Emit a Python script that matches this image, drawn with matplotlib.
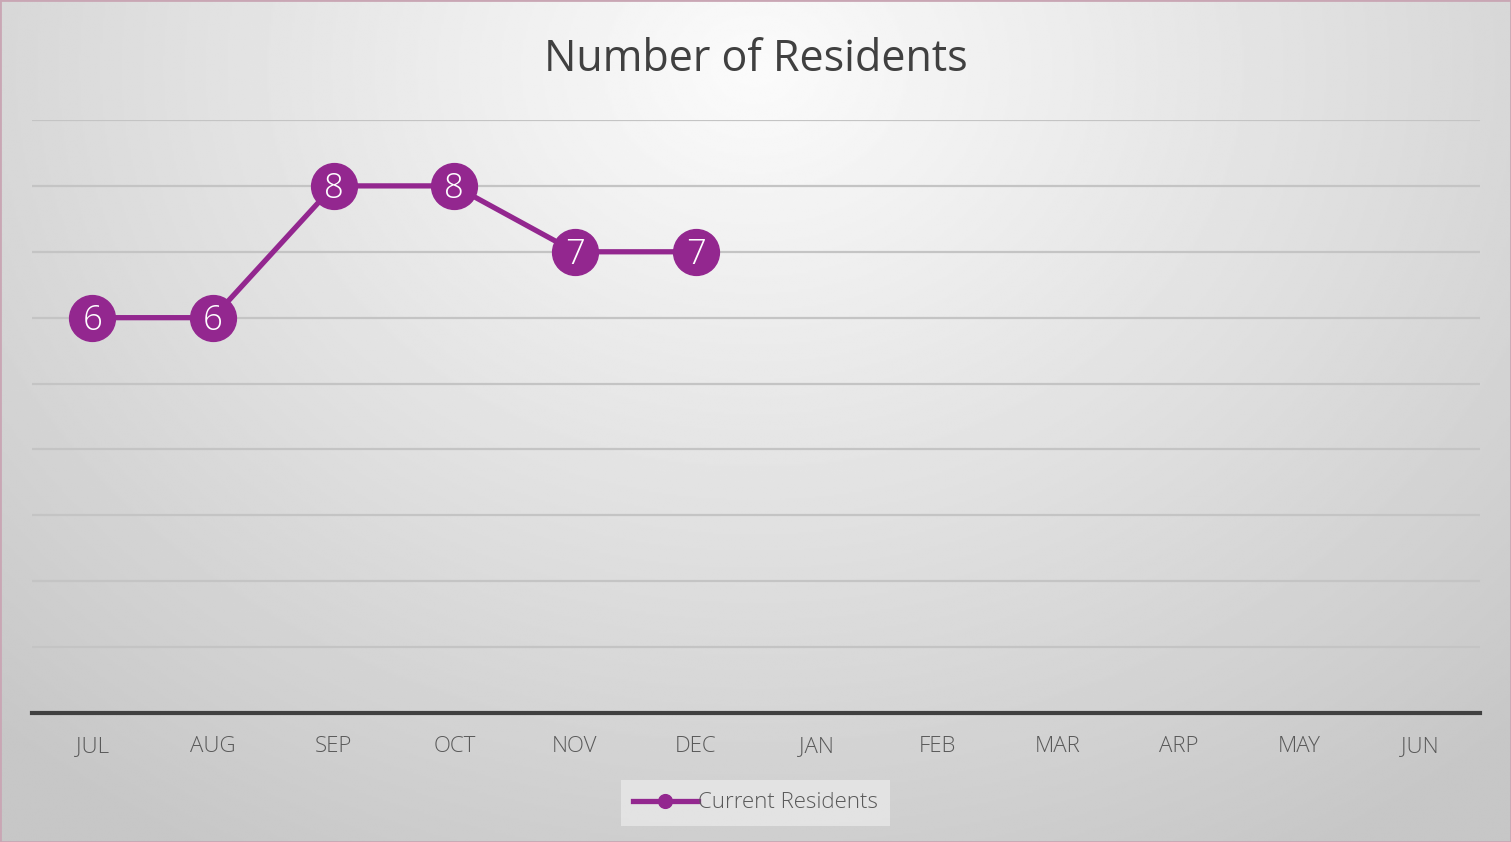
import numpy as np
import matplotlib.pyplot as plt
from matplotlib.patches import Rectangle

months = ["JUL", "AUG", "SEP", "OCT", "NOV", "DEC",
          "JAN", "FEB", "MAR", "ARP", "MAY", "JUN"]
residents = [6, 6, 8, 8, 7, 7]

PURPLE = "#93278f"
FONT = ["Open Sans", "DejaVu Sans"]

plt.rcParams["font.family"] = FONT

fig = plt.figure(figsize=(15.11, 8.42), dpi=100)

# background: soft radial gradient, light at top centre
bg = fig.add_axes([0, 0, 1, 1], zorder=-10)
yy, xx = np.mgrid[0:1:400j, 0:1:700j]
r = np.sqrt(((xx - 0.5) / 0.75) ** 2 + ((yy - 0.08) / 1.1) ** 2)
shade = np.clip(0.985 - 0.21 * r, 0.78, 1.0)
bg.imshow(shade, cmap="gray", vmin=0, vmax=1, extent=[0, 1, 1, 0],
          aspect="auto", interpolation="bilinear")
bg.set_xlim(0, 1)
bg.set_ylim(1, 0)
bg.axis("off")
fig.patches.append(Rectangle((0, 0), 1, 1, transform=fig.transFigure,
                             fill=False, edgecolor="#c9a6b4", linewidth=2))

ax = fig.add_axes([32 / 1511, 1 - 713 / 842, 1448 / 1511, 593 / 842])
ax.set_facecolor("none")
x = np.arange(len(months))
ax.plot(x[:len(residents)], residents, color=PURPLE, linewidth=3.8,
        marker="o", markersize=33, markerfacecolor=PURPLE,
        markeredgecolor=PURPLE, label="Current Residents", zorder=3)
for xi, v in zip(x, residents):
    ax.text(xi, v - 0.05, str(v), color="white", fontsize=25,
            ha="center", va="center", fontweight="light", zorder=4)

ax.set_xlim(-0.5, len(months) - 0.5)
ax.set_ylim(0, 9)
ax.set_yticks(np.arange(0, 10))
ax.yaxis.grid(True, color="#c4c4c4", linewidth=1.6)
ax.set_axisbelow(True)
ax.tick_params(axis="y", left=False, labelleft=False)
ax.tick_params(axis="x", bottom=False, colors="#595959", labelsize=16, pad=13)
ax.set_xticks(x)
ax.set_xticklabels(months, fontweight="light")
for s in ["top", "right", "left"]:
    ax.spines[s].set_visible(False)
ax.spines["bottom"].set_color("#404040")
ax.spines["bottom"].set_linewidth(3)
ax.spines["bottom"].set_zorder(2)

fig.text(0.5, 1 - 60 / 842, "Number of Residents", ha="center", va="center",
         fontsize=31, color="#404040")

leg = ax.legend(loc="center", bbox_to_anchor=(0.5, 1 - 803 / 842),
                bbox_transform=fig.transFigure, fontsize=16, frameon=True,
                fancybox=False, markerscale=0.3, handlelength=2.9,
                handletextpad=0.0, borderpad=0.55, borderaxespad=0,
                labelcolor="#595959", prop={"weight": "light", "size": 16})
leg.get_frame().set_facecolor("#e8e8e8")
leg.get_frame().set_edgecolor("none")
leg.get_frame().set_alpha(0.8)

fig.savefig("out.png", dpi=100)
